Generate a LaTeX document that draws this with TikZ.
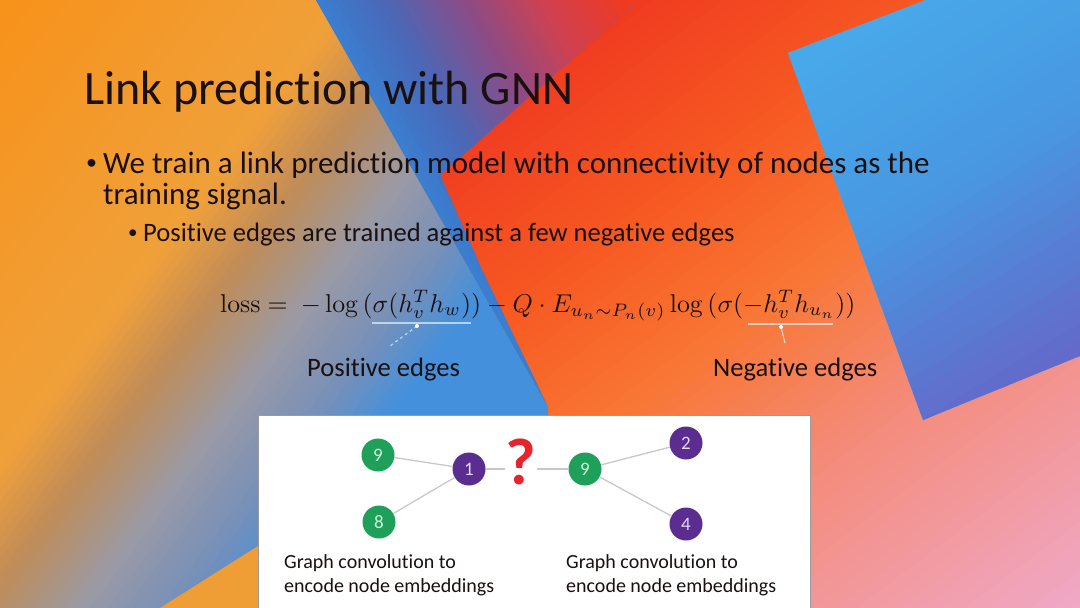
\documentclass[tikz,border=0pt]{standalone}
\usepackage[no-math]{fontspec}
\setmainfont{Carlito}[Ligatures=NoCommon]
\usepackage{graphicx}
\usetikzlibrary{calc}

% background palette
\definecolor{B0}{HTML}{EF3520}
\definecolor{B1}{HTML}{F75A22}
\definecolor{B2}{HTML}{F87634}
\definecolor{B3}{HTML}{F48C7C}
\definecolor{B4}{HTML}{F0A8C6}
\definecolor{L0}{HTML}{F7921A}
\definecolor{L1}{HTML}{F0A03A}
\definecolor{L2}{HTML}{C08C58}
\definecolor{L3}{HTML}{9A9AA6}
\definecolor{L4}{HTML}{7890B8}
\definecolor{L5}{HTML}{4590DC}
\definecolor{P0}{HTML}{3A7ED0}
\definecolor{P1}{HTML}{4A68B8}
\definecolor{P2}{HTML}{8A4C88}
\definecolor{P3}{HTML}{D04050}
\definecolor{P4}{HTML}{F03A22}
\definecolor{R0}{HTML}{48ABEA}
\definecolor{R1}{HTML}{4898E2}
\definecolor{R2}{HTML}{6468C8}
\definecolor{Y0}{HTML}{EE9E34}
% foreground palette
\definecolor{ink}{HTML}{1A1010}
\definecolor{gnode}{HTML}{1FA05A}
\definecolor{pnode}{HTML}{5B2D90}
\definecolor{gtxt}{HTML}{CDF2D8}
\definecolor{ptxt}{HTML}{E6D8FA}
\definecolor{edgec}{HTML}{C8C8C8}
\definecolor{qred}{HTML}{E8232B}
\definecolor{framec}{HTML}{9A9A9A}
\definecolor{hint}{HTML}{D8ECFA}

% colour bands: #1,#2 unit direction, #3..#4 range, #5 -> #6 colours, #7 steps
\newcommand\gseg[7]{%
  \foreach \k in {1,...,#7}{%
    \pgfmathsetmacro\sa{#3+(#4-#3)*(\k-1)/#7}%
    \pgfmathsetmacro\sb{#3+(#4-#3)*\k/#7+1.5}%
    \pgfmathtruncatemacro\pc{100*(\k-0.5)/#7}%
    \fill[#6!\pc!#5] ({\sa*#1-1800*#2},{\sa*#2+1800*#1}) -- ({\sb*#1-1800*#2},{\sb*#2+1800*#1})
      -- ({\sb*#1+1800*#2},{\sb*#2-1800*#1}) -- ({\sa*#1+1800*#2},{\sa*#2-1800*#1}) -- cycle;
  }}

\tikzset{
  gnn/.style={circle, fill=gnode, minimum size=33pt, inner sep=0pt, text=gtxt, font=\fontsize{19}{19}\selectfont},
  pnn/.style={circle, fill=pnode, minimum size=33pt, inner sep=0pt, text=ptxt, font=\fontsize{19}{19}\selectfont},
  link/.style={draw=edgec, line width=1.3pt},
  txt/.style={anchor=base west, inner sep=0pt, text=ink},
  hintline/.style={draw=hint, line width=1.2pt, opacity=0.75},
}

\begin{document}
\begin{tikzpicture}[x=1pt,y=-1pt]
\useasboundingbox (0,0) rectangle (1080,608);

% ---------- background ----------
\begin{scope}
  \clip (0,0) rectangle (1080,608);
  \fill[B0] (0,0) rectangle (1080,608);
  \gseg{0.6}{0.8}{350}{560}{B0}{B1}{20}
  \gseg{0.6}{0.8}{560}{700}{B1}{B2}{14}
  \gseg{0.6}{0.8}{700}{870}{B2}{B3}{16}
  \gseg{0.6}{0.8}{870}{1130}{B3}{B4}{20}
  \gseg{0.6}{0.8}{1130}{3000}{B4}{B4}{1}
\end{scope}
% left region
\begin{scope}
  \clip (0,0) -- (316,0) -- (548,407) -- (548,608) -- (0,608) -- cycle;
  \fill[L0] (0,0) rectangle (1080,608);
  \gseg{0.8}{0.6}{0}{280}{L0}{L1}{20}
  \gseg{0.8}{0.6}{280}{350}{L1}{L2}{10}
  \gseg{0.8}{0.6}{350}{430}{L2}{L3}{12}
  \gseg{0.8}{0.6}{430}{500}{L3}{L4}{10}
  \gseg{0.8}{0.6}{500}{560}{L4}{L5}{8}
  \gseg{0.8}{0.6}{560}{3000}{L5}{L5}{1}
\end{scope}
% bottom-left warm patch
\fill[Y0] (160,608) -- (258,546) -- (258,608) -- cycle;
% blue-purple wedge
\begin{scope}
  \clip (316,0) -- (640,0) -- (440,175) -- (482,270) -- (548,407) -- cycle;
  \fill[P0] (0,0) rectangle (1080,608);
  \gseg{0.867}{-0.499}{273}{330}{P0}{P1}{10}
  \gseg{0.867}{-0.499}{330}{400}{P1}{P2}{12}
  \gseg{0.867}{-0.499}{400}{470}{P2}{P3}{12}
  \gseg{0.867}{-0.499}{470}{540}{P3}{P4}{12}
  \gseg{0.867}{-0.499}{540}{3000}{P4}{P4}{1}
\end{scope}
% right blue panel
\begin{scope}
  \clip (788,53) -- (926,0) -- (1080,0) -- (1080,356) -- (923,420) -- cycle;
  \fill[R0] (0,0) rectangle (1080,608);
  \gseg{0.52}{0.85}{450}{650}{R0}{R1}{16}
  \gseg{0.52}{0.85}{650}{870}{R1}{R2}{16}
  \gseg{0.52}{0.85}{870}{3000}{R2}{R2}{1}
\end{scope}

% ---------- text ----------
\node[txt, font=\fontsize{48}{48}\selectfont] (title) at (84,104) {Link prediction with GNN};

\node[txt, font=\fontsize{22}{22}\selectfont] (dot1) at (86,169) {•};
\node[txt, font=\fontsize{31}{31}\selectfont] (line1) at (103,173) {We train a link prediction model with connectivity of nodes as the};
\node[txt, font=\fontsize{31}{31}\selectfont] (line2) at (103,204) {training signal.};
\node[txt, font=\fontsize{19}{19}\selectfont] (dot2) at (128,238) {•};
\node[txt, font=\fontsize{26.6}{26.6}\selectfont] (sub) at (143,241) {Positive edges are trained against a few negative edges};

\node[txt] (loss) at (220,312) {\resizebox{635pt}{!}{$\mathrm{loss} =\ -\log\,(\sigma(h_v^T h_w)) - Q\cdot E_{u_n\sim P_n(v)}\log\,(\sigma(-h_v^T h_{u_n}))$}};

% annotation hints
\coordinate (pu1) at (372,323);
\coordinate (pu2) at (471,323);
\coordinate (pdot) at (417,326);
\coordinate (ptip) at (390,346);
\coordinate (nu1) at (748,324);
\coordinate (nu2) at (833,324);
\coordinate (ndot) at (781,327);
\coordinate (ntip) at (785,343);
\draw[hintline] (pu1) -- (pu2);
\draw[hintline, dashed] (pdot) -- (ptip);
\fill[white] (pdot) circle (2pt);
\draw[hintline] (nu1) -- (nu2);
\draw[hintline] (ndot) -- (ntip);
\fill[white] (ndot) circle (2pt);

\node[txt, font=\fontsize{26.6}{26.6}\selectfont] (pos) at (307,376) {Positive edges};
\node[txt, font=\fontsize{26.6}{26.6}\selectfont] (neg) at (713,376) {Negative edges};

% ---------- graph panel ----------
\node[anchor=north west, fill=white, draw=framec, line width=0.8pt, minimum width=552pt, minimum height=210pt, inner sep=0pt] (panel) at (258,415) {};

\node[gnn] (a9) at (378,455) {9};
\node[gnn] (a8) at (379,522) {8};
\node[pnn] (a1) at (469,469) {1};
\node[gnn] (b9) at (585,469) {9};
\node[pnn] (b2) at (686,443) {2};
\node[pnn] (b4) at (686,524) {4};

\draw[link] (a9) -- (a1);
\draw[link] (a8) -- (a1);
\draw[link] (a1) -- (b9);
\draw[link] (b9) -- (b2);
\draw[link] (b9) -- (b4);

\node[fill=white, inner sep=1pt, text=qred, font=\fontsize{66}{66}\selectfont\bfseries] (q) at (521,462) {?};

\node[txt, font=\fontsize{20}{20}\selectfont] (lcap) at (284,568) {Graph convolution to};
\node[txt, font=\fontsize{20}{20}\selectfont] (lcap2) at (284,592) {encode node embeddings};
\node[txt, font=\fontsize{20}{20}\selectfont] (rcap) at (566,568) {Graph convolution to};
\node[txt, font=\fontsize{20}{20}\selectfont] (rcap2) at (566,592) {encode node embeddings};
\end{tikzpicture}
\end{document}
